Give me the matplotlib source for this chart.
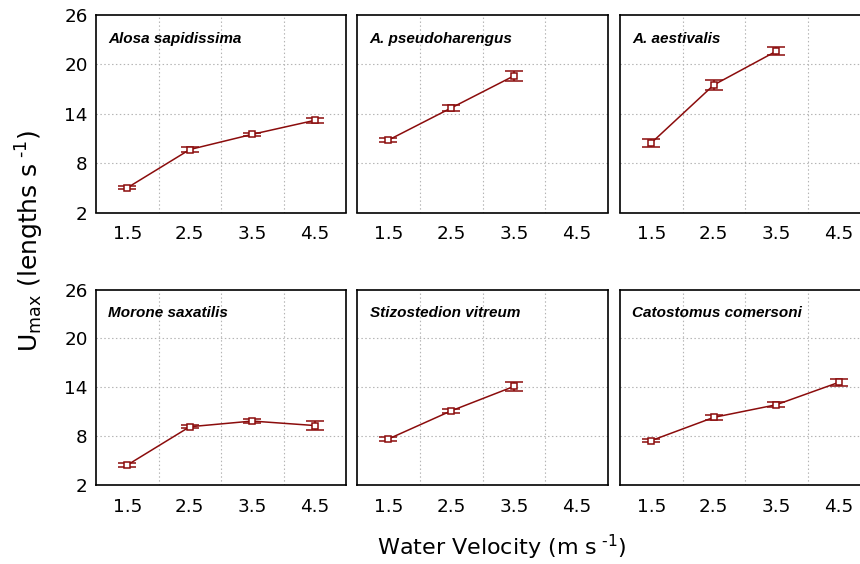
import matplotlib
matplotlib.use("Agg")
import matplotlib.pyplot as plt

plt.rcParams['font.family'] = ['DejaVu Sans']
plt.rcParams['axes.unicode_minus'] = False
plt.rcParams['mathtext.fontset'] = 'dejavusans'

# Test velocities and maximum swimming speed (mean +/- SE) for each species
velocity = [1.5, 2.5, 3.5, 4.5]

species = ["Alosa sapidissima", "A. pseudoharengus", "A. aestivalis",
           "Morone saxatilis", "Stizostedion vitreum", "Catostomus comersoni"]

alosa_mean = [5.0, 9.65, 11.5, 13.2]
alosa_se = [0.2, 0.25, 0.2, 0.3]

pseudo_mean = [10.8, 14.7, 18.6]
pseudo_se = [0.2, 0.4, 0.6]

aestiv_mean = [10.45, 17.5, 21.6]
aestiv_se = [0.43, 0.57, 0.5]

morone_mean = [4.45, 9.15, 9.85, 9.3]
morone_se = [0.25, 0.2, 0.3, 0.55]

stizo_mean = [7.65, 11.1, 14.1]
stizo_se = [0.25, 0.25, 0.5]

cato_mean = [7.45, 10.3, 11.85, 14.6]
cato_se = [0.2, 0.3, 0.3, 0.4]

means = [alosa_mean, pseudo_mean, aestiv_mean, morone_mean, stizo_mean, cato_mean]
errors = [alosa_se, pseudo_se, aestiv_se, morone_se, stizo_se, cato_se]

y_ticks = [2, 8, 14, 20, 26]
x_ticks = [1.5, 2.5, 3.5, 4.5]
x_grid = [2, 3, 4]
y_grid = [8, 14, 20]

W, H = 860, 564
fig = plt.figure(figsize=(W / 100, H / 100), dpi=100)

lefts = [96, 357, 620]
widths = [250, 251, 250]
rows = [(15, 212.5), (289.5, 485)]

color = '#8B0C0C'
grid_kw = dict(linestyle=(0, (1.3, 2.2)), color='#b4b4b4', linewidth=0.8, zorder=1)

for i, name in enumerate(species):
    r, c = divmod(i, 3)
    top, bottom = rows[r]
    ax = fig.add_axes([lefts[c] / W, 1 - bottom / H, widths[c] / W, (bottom - top) / H])
    ax.set_xlim(1, 5)
    ax.set_ylim(2, 26)
    ax.set_xticks(x_ticks)
    ax.set_yticks(y_ticks)
    for gx in x_grid:
        ax.axvline(gx, **grid_kw)
    for gy in y_grid:
        ax.axhline(gy, **grid_kw)
    ax.tick_params(which='both', length=0)
    ax.tick_params(axis='x', labelsize=13.2, pad=9)
    ax.tick_params(axis='y', labelsize=13.2, pad=6)
    if c != 0:
        ax.set_yticklabels([])
    for s in ax.spines.values():
        s.set_linewidth(1.2)
    m = means[i]
    e = errors[i]
    xs = velocity[:len(m)]
    ax.errorbar(xs, m, yerr=e, color=color, linewidth=1.1, elinewidth=1.1,
                capsize=6.5, capthick=1.1, marker='s', markersize=4.5,
                markerfacecolor='white', markeredgecolor=color, markeredgewidth=1.1,
                zorder=3)
    ax.text(0.05, 0.915, name, transform=ax.transAxes, ha='left', va='top',
            fontsize=11, fontweight='bold', fontstyle='italic',
            family=['Liberation Sans', 'DejaVu Sans'])

fig.text(30 / W, 1 - 241 / H, r'U$_{\mathregular{max}}$ (lengths s$^{\text{ -1}}$)',
         rotation=90, ha='center', va='center', fontsize=18)
fig.text(502 / W, 1 - 547 / H, r'Water Velocity (m s$^{\text{ -1}}$)',
         ha='center', va='center', fontsize=16)

fig.savefig('out.png', dpi=100)
